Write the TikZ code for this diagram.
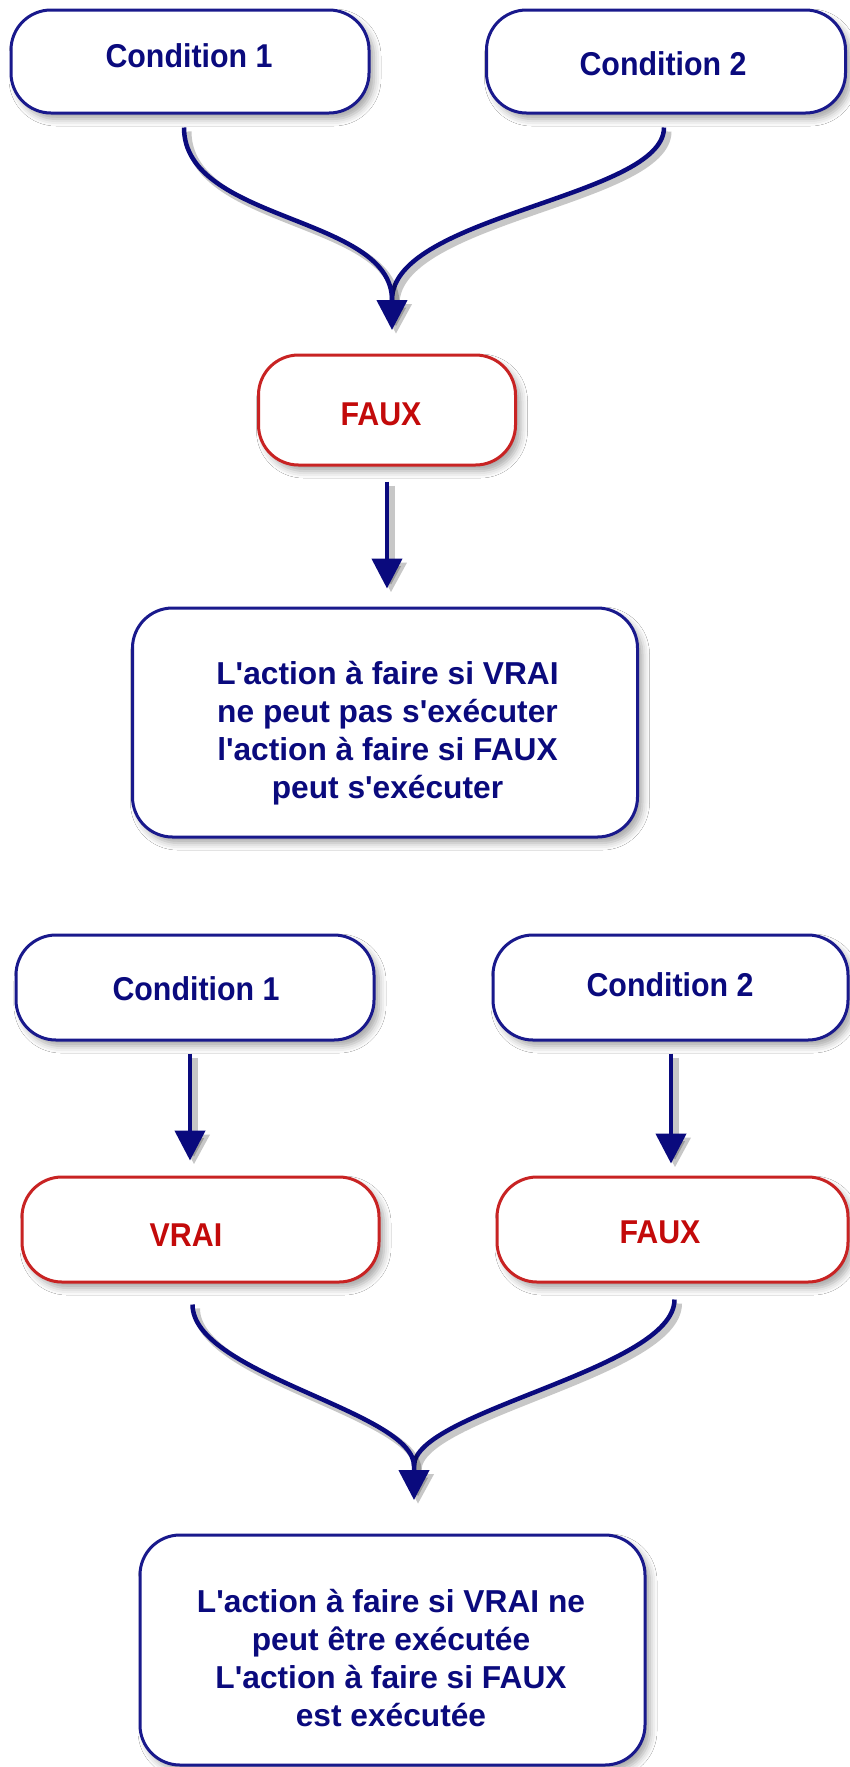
\documentclass[tikz,border=0pt]{standalone}
\usepackage{fontspec}
\newfontfamily\lsans{Liberation Sans}
\newfontfamily\lsanscond{Liberation Sans}[FakeStretch=0.92]
\usetikzlibrary{arrows.meta,shadows.blur}
\definecolor{navyline}{RGB}{25,25,140}
\definecolor{navytext}{RGB}{10,10,125}
\definecolor{redline}{RGB}{200,35,35}
\definecolor{redtext}{RGB}{195,10,10}
\begin{document}
\begin{tikzpicture}[x=1pt,y=-1pt,
  box/.style={draw=navyline, line width=3pt, fill=white, rounded corners=40pt, inner sep=0pt,
    blur shadow={shadow xshift=5pt,shadow yshift=-6pt,shadow blur radius=7pt,shadow opacity=35}},
  redbox/.style={box, draw=redline},
  pilltext/.style={text=navytext, font=\lsanscond\bfseries\fontsize{33}{38}\selectfont, inner sep=0pt, anchor=base},
  redtxt/.style={pilltext, text=redtext},
  bigtext/.style={text=navytext, font=\lsans\bfseries\fontsize{31.7}{38}\selectfont, align=center, inner sep=0pt},
  conn/.style={draw=navytext, line width=4.5pt,
    preaction={draw=black, opacity=.22, line width=7pt, transform canvas={xshift=4pt,yshift=-4pt}}},
  tipped/.style={-{Triangle[width=30pt,length=30pt]}}
]
\useasboundingbox[fill=white] (0,0) rectangle (850,1767);

% ---- upper diagram
\node[box, minimum width=358pt, minimum height=103pt] (c1) at (190,61.5) {};
\node[pilltext] (c1t) at (189,67) {Condition 1};
\node[box, minimum width=359pt, minimum height=103pt] (c2) at (666,61.5) {};
\node[pilltext] (c2t) at (663,75) {Condition 2};
\node[redbox, minimum width=257pt, minimum height=110pt] (f1) at (387,410) {};
\node[redtxt] (f1t) at (381,425) {FAUX};
\node[box, minimum width=505pt, minimum height=229pt] (a1) at (385,722.5) {};
\node[bigtext] (a1t) at (387.5,733)
  {L'action à faire si VRAI\\ne peut pas s'exécuter\\l'action à faire si FAUX\\peut s'exécuter};

\coordinate (m1) at (392,300);
\coordinate (t1) at (392,330);
\draw[conn] ([xshift=-2pt,yshift=-13pt]c2.south) .. controls +(0,70) and +(0,-85) .. (m1);
\draw[conn, tipped] ([xshift=-6pt,yshift=-13pt]c1.south) .. controls +(0,95) and +(0,-85) .. (m1) -- (t1);
\draw[conn, tipped] ([yshift=-15pt]f1.south) -- ([xshift=2pt,yshift=18pt]a1.north);

% ---- lower diagram
\node[box, minimum width=358pt, minimum height=105pt] (c3) at (195,987.5) {};
\node[pilltext] (c3t) at (196,1000) {Condition 1};
\node[box, minimum width=355pt, minimum height=105pt] (c4) at (670.5,987.5) {};
\node[pilltext] (c4t) at (670,996) {Condition 2};
\node[redbox, minimum width=357pt, minimum height=105pt] (v2) at (200.5,1229.5) {};
\node[redtxt] (v2t) at (186,1246) {VRAI};
\node[redbox, minimum width=351pt, minimum height=105pt] (f2) at (672.5,1229.5) {};
\node[redtxt] (f2t) at (660,1243) {FAUX};
\node[box, minimum width=505pt, minimum height=230pt] (a2) at (392.5,1650) {};
\node[bigtext] (a2t) at (391,1658)
  {L'action à faire si VRAI ne\\peut être exécutée\\L'action à faire si FAUX\\est exécutée};

\draw[conn, tipped] ([xshift=-5pt,yshift=-12pt]c3.south) -- ([xshift=-10.5pt,yshift=15pt]v2.north);
\draw[conn, tipped] ([xshift=0.5pt,yshift=-12pt]c4.south) -- ([xshift=-1.5pt,yshift=12pt]f2.north);

\coordinate (m2) at (414,1466);
\coordinate (t2) at (414,1500);
\draw[conn] ([xshift=2pt,yshift=-16pt]f2.south) .. controls +(0,70) and +(0,-55) .. (m2);
\draw[conn, tipped] ([xshift=-8pt,yshift=-21pt]v2.south) .. controls +(0,70) and +(0,-55) .. (m2) -- (t2);
\end{tikzpicture}
\end{document}
